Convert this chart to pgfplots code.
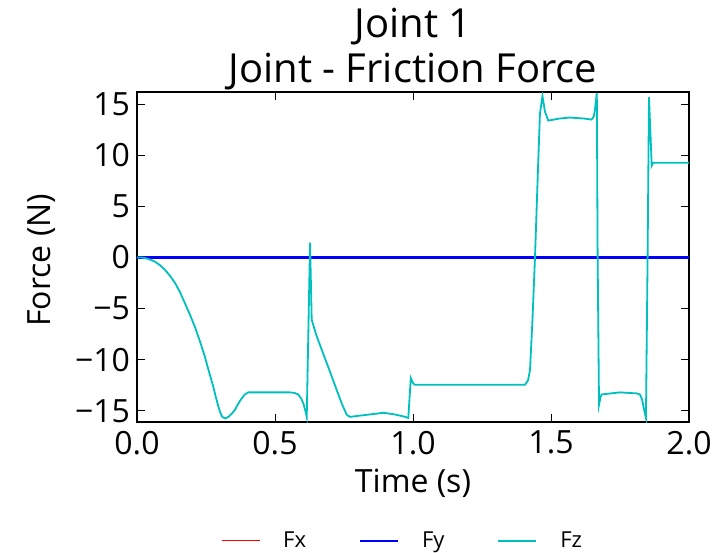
\documentclass[border=0pt]{standalone}
\usepackage{fontspec}
\setmainfont{Open Sans}
\usepackage{pgfplots}
\pgfplotsset{compat=1.18}

\definecolor{fzcol}{rgb}{0.0,0.75,0.75}

\begin{document}
\begin{tikzpicture}
\begin{axis}[
  name=ax,
  scale only axis,
  width=276pt, height=165pt,
  xmin=0, xmax=2, ymin=-16.1, ymax=16.2,
  xtick={0,0.5,1,1.5,2},
  xticklabels={0.0,0.5,1.0,1.5,2.0},
  ytick={-15,-10,-5,0,5,10,15},
  yticklabels={−15,−10,−5,0,5,10,15},
  tick align=inside,
  major tick length=4pt,
  tick style={black, line width=0.5pt},
  axis line style={black, line width=0.6pt},
  ticklabel style={font=\fontsize{16}{18}\selectfont},
  xticklabel style={yshift=-1pt},
  label style={font=\fontsize{16}{18}\selectfont},
  xlabel={Time (s)},
  ylabel={Force (N)},
  xlabel style={at={(axis description cs:0.5,-0.185)}, anchor=center},
  ylabel style={at={(axis description cs:-0.172,0.49)}, anchor=center},
  title={Joint 1\\Joint - Friction Force},
  title style={at={(axis description cs:0.5,1.095)}, anchor=center, align=center,
    font=\fontsize{20}{22.5}\selectfont},
  legend columns=3,
  legend style={at={(axis description cs:0.5,-0.36)}, anchor=center, draw=none,
    font=\fontsize{11}{13}\selectfont,
    /tikz/every even column/.append style={column sep=15pt},
    nodes={inner xsep=11.5pt}},
  legend image code/.code={\draw[#1] (0pt,0pt) -- (19pt,0pt);},
]
\addplot[red, line width=0.6pt] coordinates {(0,0) (2,0)};
\addlegendentry{Fx}
\addplot[blue, line width=1.05pt] coordinates {(0,0) (2,0)};
\addlegendentry{Fy}
\addplot[fzcol, line width=0.9pt] coordinates {
(0,0) (0.015,0) (0.029,-0.05) (0.047,-0.2) (0.065,-0.4) (0.083,-0.75) (0.101,-1.2)
(0.12,-1.8) (0.138,-2.5) (0.156,-3.4) (0.174,-4.5) (0.192,-5.6) (0.210,-6.8)
(0.228,-8.2) (0.246,-9.7) (0.261,-11.2) (0.276,-12.6) (0.286,-13.7) (0.295,-14.6)
(0.302,-15.2) (0.309,-15.6) (0.32,-15.75) (0.331,-15.6) (0.343,-15.3) (0.355,-14.9)
(0.367,-14.3) (0.379,-13.8) (0.391,-13.4) (0.403,-13.2) (0.42,-13.2) (0.554,-13.2)
(0.57,-13.25) (0.584,-13.4) (0.595,-13.8) (0.603,-14.3) (0.61,-15.0) (0.615,-15.6)
(0.627,1.45) (0.633,-6.1) (0.651,-7.7) (0.669,-9.0) (0.687,-10.3) (0.705,-11.6)
(0.724,-13.0) (0.742,-14.3) (0.760,-15.4) (0.772,-15.6) (0.80,-15.5) (0.832,-15.4)
(0.862,-15.3) (0.892,-15.2) (0.92,-15.3) (0.941,-15.4) (0.965,-15.55) (0.983,-15.7)
(0.992,-11.8) (1.0,-12.3) (1.007,-12.46) (1.406,-12.46) (1.417,-12.0) (1.424,-11.0)
(1.433,-6.0) (1.442,0) (1.452,8.0) (1.46,14.1) (1.469,15.8) (1.478,14.3) (1.49,13.4)
(1.53,13.6) (1.569,13.7) (1.62,13.6) (1.647,13.5) (1.655,13.8) (1.659,14.4)
(1.666,16.1) (1.669,0) (1.674,-14.4) (1.68,-13.6) (1.684,-13.4) (1.75,-13.2)
(1.81,-13.3) (1.822,-13.4) (1.83,-13.9) (1.835,-14.6) (1.844,-15.7) (1.850,0)
(1.855,15.7) (1.865,9.0) (1.87,9.27) (2.0,9.27)
};
\addlegendentry{Fz}
\end{axis}
\pgfresetboundingbox
\path ([shift={(-68.5pt,-65pt)}]ax.south west) rectangle ([shift={(11.5pt,46pt)}]ax.north east);
\end{tikzpicture}
\end{document}
